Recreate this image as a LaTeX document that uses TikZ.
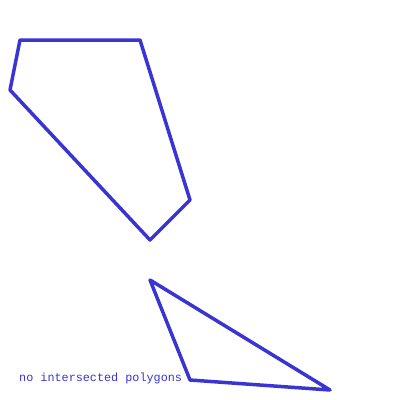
\documentclass[tikz,border=0pt]{standalone}
\usepackage{fontspec}
\setmonofont{Liberation Mono}
\definecolor{polyblue}{RGB}{58,52,210}
\begin{document}
\begin{tikzpicture}[x=1pt,y=-1pt,
  poly/.style={draw=polyblue,line width=3.5pt,line join=round},
  lbl/.style={text=polyblue,font=\ttfamily\fontsize{11.8}{12}\selectfont,anchor=base west,inner sep=0pt}]
\useasboundingbox (0,0) rectangle (400,400);
\coordinate (a1) at (20,40);
\coordinate (a2) at (140,40);
\coordinate (a3) at (190,200);
\coordinate (a4) at (150,240);
\coordinate (a5) at (10,90);
\draw[poly] (a1) -- (a2) -- (a3) -- (a4) -- (a5) -- cycle;
\coordinate (b1) at (150,280);
\coordinate (b2) at (330,390);
\coordinate (b3) at (190,380);
\draw[poly] (b1) -- (b2) -- (b3) -- cycle;
\node[lbl] (t) at (19,381) {no intersected polygons};
\end{tikzpicture}
\end{document}
